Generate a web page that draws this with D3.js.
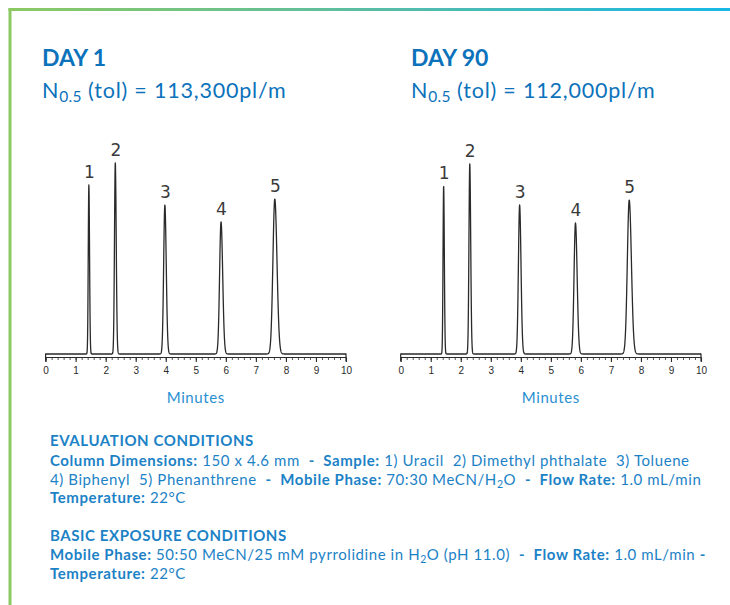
<!DOCTYPE html>
<html>
<head>
<meta charset="utf-8">
<script src="https://cdn.jsdelivr.net/npm/d3@7"></script>
<style>
  html, body { margin: 0; padding: 0; background: #fff; }
  svg { display: block; }
</style>
</head>
<body>
<script>
// ---------------- DATA ----------------
const panelTitles = ["DAY 1", "DAY 90"];
const plateCounts = ["113,300pl/m", "112,000pl/m"];
const peakLabels = ["1", "2", "3", "4", "5"];
// retention times (min)
const retentionDay1  = [1.44, 2.32, 3.97, 5.84, 7.63];
const retentionDay90 = [1.43, 2.30, 3.96, 5.82, 7.61];
// peak heights (arbitrary detector units)
const heightDay1  = [169, 191, 149, 132, 155];
const heightDay90 = [168, 190, 149, 131, 154];
// peak widths (sigma, min)
const widthDay1  = [0.020, 0.027, 0.040, 0.048, 0.063];
const widthDay90 = [0.020, 0.027, 0.040, 0.048, 0.063];
const xTickValues = [0, 1, 2, 3, 4, 5, 6, 7, 8, 9, 10];
const xAxisTitle = "Minutes";

const W = 730, H = 605;
const titleBlue = "#0b72bb";
const textBlue = "#1c82c6";
const lightBlue = "#2a8fd2";
const ink = "#2a2a2a";

const svg = d3.select("body").append("svg").attr("width", W).attr("height", H);

// gradient frame
const defs = svg.append("defs");
const grad = defs.append("linearGradient").attr("id", "frameGrad")
  .attr("x1", "0%").attr("x2", "100%").attr("y1", "0%").attr("y2", "0%");
grad.append("stop").attr("offset", "0%").attr("stop-color", "#8cc962");
grad.append("stop").attr("offset", "55%").attr("stop-color", "#54bcab");
grad.append("stop").attr("offset", "100%").attr("stop-color", "#17b8e6");
svg.append("rect").attr("x", 8.5).attr("y", 8).attr("width", W - 8.5).attr("height", 3).attr("fill", "url(#frameGrad)");
svg.append("rect").attr("x", 8.5).attr("y", 8).attr("width", 3).attr("height", H - 8).attr("fill", "#8cc962");

const fontFamily = "Lato, 'Open Sans', sans-serif";

const panels = [
  { x0: 45.6, x1: 346, titleX: 42, ret: retentionDay1, h: heightDay1, w: widthDay1 },
  { x0: 400.7, x1: 701, titleX: 411, ret: retentionDay90, h: heightDay90, w: widthDay90 }
];

panels.forEach((p, i) => {
  const g = svg.append("g");
  // titles
  g.append("text").attr("x", p.titleX).attr("y", 65.5)
    .attr("font-family", fontFamily).attr("font-weight", 700).attr("font-size", 23)
    .attr("fill", titleBlue).text(panelTitles[i]);
  const t = g.append("text").attr("x", p.titleX).attr("y", 98)
    .attr("font-family", fontFamily).attr("font-weight", 400).attr("font-size", 21.5)
    .attr("letter-spacing", 0.8)
    .attr("fill", titleBlue);
  t.append("tspan").text("N");
  t.append("tspan").attr("dy", 4).attr("font-size", 15.5).attr("letter-spacing", 0.3).text("0.5");
  t.append("tspan").attr("dy", -4).text(" (tol) = " + plateCounts[i]);

  const x = d3.scaleLinear().domain([0, 10]).range([p.x0, p.x1]);
  const y = d3.scaleLinear().domain([0, 200]).range([354, 154]);

  // chromatogram trace built from peak table
  const pts = d3.range(0, 10.0001, 0.004).map(tm => {
    let v = 0;
    p.ret.forEach((r, k) => {
      const s = p.w[k] * (tm > r ? 1.15 : 1);
      v += p.h[k] * Math.exp(-0.5 * ((tm - r) / s) ** 2);
    });
    return [tm, v];
  });
  g.append("path").datum(pts)
    .attr("d", d3.line().x(d => x(d[0])).y(d => y(d[1])))
    .attr("fill", "none").attr("stroke", ink).attr("stroke-width", 1.3)
    .attr("stroke-linejoin", "round");

  // peak labels
  g.selectAll(".pl").data(peakLabels).join("text")
    .attr("x", (d, k) => x(p.ret[k]) + 0.5)
    .attr("y", (d, k) => y(p.h[k]) - 7)
    .attr("text-anchor", "middle")
    .attr("font-family", "'DejaVu Sans', sans-serif").attr("font-size", 17)
    .attr("fill", "#3a3a3a").text(d => d);

  // axis
  const axisY = 357.5;
  const ax = g.append("g").attr("transform", `translate(0,${axisY})`);
  // minor ticks
  ax.call(d3.axisBottom(x).tickValues(d3.range(0, 10.01, 0.2)).tickSize(2.5).tickFormat(""))
    .call(a => a.select(".domain").remove());
  ax.selectAll(".tick line").attr("stroke", ink).attr("stroke-width", 0.8);
  const axMaj = g.append("g").attr("transform", `translate(0,${axisY})`)
    .call(d3.axisBottom(x).tickValues(xTickValues).tickSize(4.5).tickPadding(5).tickFormat(d3.format("d")));
  axMaj.select(".domain").attr("d", `M${p.x0},0H${p.x1}`).attr("stroke", ink).attr("stroke-width", 1.2);
  axMaj.selectAll(".tick line").attr("stroke", ink).attr("stroke-width", 1.1);
  axMaj.selectAll(".tick text").attr("font-family", "Arial, 'Liberation Sans', sans-serif")
    .attr("font-size", 10).attr("fill", ink);
  // end caps
  [0, 10].forEach(v => g.append("line").attr("x1", x(v)).attr("x2", x(v))
    .attr("y1", axisY - 4).attr("y2", axisY + 4).attr("stroke", ink).attr("stroke-width", 1.2));

  g.append("text").attr("x", (p.x0 + p.x1) / 2).attr("y", 403)
    .attr("text-anchor", "middle").attr("font-family", fontFamily)
    .attr("font-size", 15).attr("letter-spacing", 0.6).attr("fill", lightBlue).text(xAxisTitle);
});

// ---------------- conditions text ----------------
const lines = [
  { y: 446, parts: [["EVALUATION CONDITIONS", 1]] },
  { y: 465.5, parts: [["Column Dimensions:", 1], [" 150 x 4.6 mm  ", 0], ["-  Sample:", 1], [" 1) Uracil  2) Dimethyl phthalate  3) Toluene", 0]] },
  { y: 484.5, parts: [["4) Biphenyl  5) Phenanthrene  ", 0], ["-  Mobile Phase:", 1], [" 70:30 MeCN/H", 0], ["2", 0, "sub"], ["O  ", 0], ["-  Flow Rate:", 1], [" 1.0 mL/min", 0]] },
  { y: 503, parts: [["Temperature:", 1], [" 22°C", 0]] },
  { y: 540.5, parts: [["BASIC EXPOSURE CONDITIONS", 1]] },
  { y: 559.5, parts: [["Mobile Phase:", 1], [" 50:50 MeCN/25 mM pyrrolidine in H", 0], ["2", 0, "sub"], ["O (pH 11.0)  ", 0], ["-  Flow Rate:", 1], [" 1.0 mL/min ", 0], ["-", 1]] },
  { y: 578.5, parts: [["Temperature:", 1], [" 22°C", 0]] }
];
lines.forEach(l => {
  const t = svg.append("text").attr("x", 50).attr("y", l.y)
    .attr("font-family", fontFamily).attr("font-size", 15).attr("letter-spacing", 0.58)
    .attr("fill", textBlue)
    .attr("xml:space", "preserve").style("white-space", "pre");
  let sub = false;
  l.parts.forEach(pt => {
    const ts = t.append("tspan").attr("font-weight", pt[1] ? 700 : 400).text(pt[0]);
    if (pt[2] === "sub") { ts.attr("dy", 3).attr("font-size", 10.5); sub = true; }
    else if (sub) { ts.attr("dy", -3); sub = false; }
  });
});
</script>
</body>
</html>
